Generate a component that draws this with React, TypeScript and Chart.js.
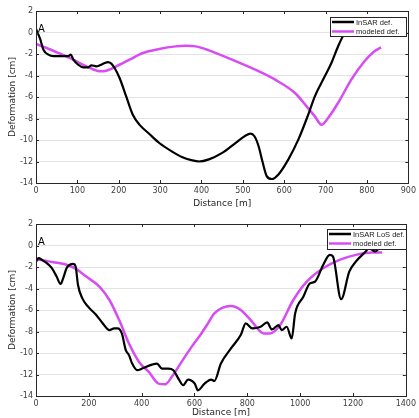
import React, { useEffect, useRef } from "react";
import { Chart, registerables } from "chart.js";

Chart.register(...registerables);

// ---- Panel 1 data ----
const topInsarX = [0, 10, 18, 30, 42, 60, 78, 84, 90, 102, 114, 126, 134, 146, 154, 166, 174, 182, 190, 202, 218, 234, 250, 274, 298, 330, 354, 378, 394, 418, 450, 482, 506, 518, 528, 538, 548, 558, 570, 586, 610, 634, 658, 674, 698, 714, 730, 746, 760, 772];
const topInsarY = [0.33, -0.6, -1.6, -2.06, -2.2, -2.2, -2.2, -2.05, -2.5, -3.0, -3.24, -3.24, -3.05, -3.15, -3.05, -2.84, -2.75, -2.9, -3.3, -4.23, -5.94, -7.65, -8.57, -9.44, -10.28, -11.1, -11.6, -11.9, -12.0, -11.8, -11.2, -10.28, -9.6, -9.4, -9.65, -10.58, -12.1, -13.38, -13.63, -13.2, -11.8, -9.97, -7.64, -5.94, -4.08, -2.84, -1.3, -0.05, 0.6, 1.0];
const topModelX = [0, 26, 58, 90, 122, 154, 170, 194, 226, 258, 298, 338, 362, 386, 418, 474, 530, 578, 626, 654, 674, 690, 706, 730, 762, 794, 818, 834];
const topModelY = [-1.07, -1.44, -1.97, -2.53, -3.15, -3.6, -3.55, -3.15, -2.53, -1.91, -1.53, -1.29, -1.23, -1.29, -1.66, -2.53, -3.46, -4.39, -5.63, -6.87, -7.8, -8.57, -7.95, -6.56, -4.39, -2.68, -1.75, -1.38];

// ---- Panel 2 data ----
const botInsarX = [0, 10, 22, 41, 60, 78, 93, 103, 116, 128, 141, 150, 159, 175, 197, 228, 253, 278, 296, 309, 325, 340, 352, 364, 383, 402, 439, 458, 477, 501, 520, 539, 557, 576, 601, 613, 638, 663, 675, 700, 738, 775, 794, 819, 850, 875, 893, 918, 930, 949, 968, 981, 1012, 1037, 1056, 1087, 1112, 1124, 1155, 1186, 1211, 1248, 1260, 1285, 1298];
const botInsarY = [-1.49, -1.17, -1.33, -1.64, -2.1, -2.89, -3.57, -3.04, -2.1, -1.79, -1.7, -1.95, -3.67, -4.9, -5.69, -6.47, -7.25, -7.87, -7.71, -7.71, -8.18, -9.74, -10.2, -10.98, -11.6, -11.45, -11.08, -10.98, -11.45, -11.45, -11.6, -12.38, -13.0, -12.47, -12.85, -13.47, -12.85, -12.47, -12.6, -10.98, -9.58, -8.33, -7.25, -7.71, -7.56, -7.16, -7.81, -7.4, -7.87, -7.56, -8.65, -6.32, -4.77, -3.52, -3.37, -1.81, -0.87, -1.02, -5.0, -2.43, -1.49, -0.56, -0.25, -0.56, -0.25];
const botModelX = [0, 66, 116, 153, 190, 240, 278, 315, 352, 390, 427, 464, 489, 514, 551, 589, 626, 651, 675, 738, 775, 813, 862, 887, 924, 974, 1025, 1087, 1149, 1211, 1273, 1310];
const botModelY = [-1.27, -1.55, -1.79, -2.2, -2.89, -3.82, -5.07, -6.94, -9.12, -10.83, -11.76, -12.85, -12.91, -12.22, -10.83, -9.43, -8.18, -7.25, -6.32, -5.63, -6.0, -6.94, -8.18, -8.18, -7.4, -5.07, -3.36, -2.12, -1.34, -0.87, -0.65, -0.65];

const yTicks = [2, 0, -2, -4, -6, -8, -10, -12, -14];
const MAGENTA = "#d84cf4";
const FONT = "'DejaVu Sans', sans-serif";
const LEGEND_FONT = "'Liberation Sans', sans-serif";

type Panel = {
  insarX: number[]; insarY: number[]; modelX: number[]; modelY: number[];
  xMax: number; xStep: number; insarLabel: string;
  padTop: number; axisH: number; legendBox: [number, number, number, number];
  titlePad: number;
};

const panels: Panel[] = [
  { insarX: topInsarX, insarY: topInsarY, modelX: topModelX, modelY: topModelY, xMax: 900, xStep: 100, insarLabel: "InSAR def.", padTop: 11, axisH: 26, legendBox: [330, 17, 406, 36], titlePad: 2 },
  { insarX: botInsarX, insarY: botInsarY, modelX: botModelX, modelY: botModelY, xMax: 1400, xStep: 200, insarLabel: "InSAR LoS def.", padTop: 15, axisH: 22, legendBox: [327, 20, 406, 40], titlePad: 1 },
];

const framePlugin = (p: Panel) => ({
  id: "frame",
  afterDraw(chart: any) {
    const ctx = chart.ctx;
    const a = chart.chartArea;
    const xs = chart.scales.x;
    const ys = chart.scales.y;
    ctx.save();
    ctx.strokeStyle = "#262626";
    ctx.lineWidth = 1;
    ctx.strokeRect(Math.round(a.left) + 0.5, Math.round(a.top) + 0.5, Math.round(a.right - a.left), Math.round(a.bottom - a.top));
    ctx.beginPath();
    for (let v = 0; v <= p.xMax; v += p.xStep) {
      const x = Math.round(xs.getPixelForValue(v)) + 0.5;
      ctx.moveTo(x, a.bottom); ctx.lineTo(x, a.bottom - 3);
      ctx.moveTo(x, a.top); ctx.lineTo(x, a.top + 3);
    }
    for (const v of yTicks) {
      const y = Math.round(ys.getPixelForValue(v)) + 0.5;
      ctx.moveTo(a.left, y); ctx.lineTo(a.left + 3, y);
      ctx.moveTo(a.right, y); ctx.lineTo(a.right - 3, y);
    }
    ctx.stroke();
    // label A
    ctx.fillStyle = "#000";
    ctx.font = `10px ${FONT}`;
    ctx.textBaseline = "middle";
    ctx.textAlign = "left";
    ctx.fillText("A", a.left + 2, ys.getPixelForValue(0.3));
    // legend
    const [l, t, r, b] = p.legendBox;
    ctx.fillStyle = "#fff";
    ctx.fillRect(l, t, r - l, b - t);
    ctx.strokeStyle = "#262626";
    ctx.strokeRect(l + 0.5, t + 0.5, r - l, b - t);
    const rows = [
      { c: "#000", w: 2.5, label: p.insarLabel },
      { c: MAGENTA, w: 2.5, label: "modeled def." },
    ];
    ctx.font = `7.5px ${LEGEND_FONT}`;
    rows.forEach((row, i) => {
      const y = t + 5 + i * 9.5;
      ctx.strokeStyle = row.c;
      ctx.lineWidth = row.w;
      ctx.beginPath();
      ctx.moveTo(l + 2, y); ctx.lineTo(l + 24, y);
      ctx.stroke();
      ctx.fillStyle = "#1a1a1a";
      ctx.fillText(row.label, l + 26, y + 0.5);
    });
    ctx.restore();
  },
});

function PanelChart({ p, top }: { p: Panel; top: number }) {
  const ref = useRef<HTMLCanvasElement>(null);
  useEffect(() => {
    const ticksX: number[] = [];
    for (let v = 0; v <= p.xMax; v += p.xStep) ticksX.push(v);
    const chart = new Chart(ref.current!, {
      type: "line",
      data: {
        datasets: [
          { data: p.insarX.map((x, i) => ({ x, y: p.insarY[i] })), borderColor: "#000", borderWidth: 2.2, pointRadius: 0, tension: 0.35, cubicInterpolationMode: "monotone" as any, order: 1 },
          { data: p.modelX.map((x, i) => ({ x, y: p.modelY[i] })), borderColor: MAGENTA, borderWidth: 2.5, pointRadius: 0, tension: 0.4, cubicInterpolationMode: "monotone" as any, order: 2 },
        ],
      },
      options: {
        animation: false,
        responsive: false,
        layout: { padding: { top: p.padTop, right: 8, left: 0, bottom: 0 } },
        plugins: { legend: { display: false }, tooltip: { enabled: false } },
        scales: {
          x: {
            type: "linear", min: 0, max: p.xMax,
            afterBuildTicks: (s: any) => { s.ticks = ticksX.map((v) => ({ value: v })); },
            afterFit: (s: any) => { s.height = p.axisH; },
            grid: { display: false, drawTicks: false },
            border: { display: false },
            ticks: { color: "#404040", font: { family: FONT, size: 8 }, padding: 3, maxRotation: 0, autoSkip: false, callback: (v: any) => String(v) },
            title: { display: true, text: "Distance [m]", color: "#262626", font: { family: FONT, size: 9 }, padding: { top: p.titlePad, bottom: 0 } },
          },
          y: {
            type: "linear", min: -14, max: 2,
            afterBuildTicks: (s: any) => { s.ticks = yTicks.map((v) => ({ value: v })); },
            afterFit: (s: any) => { s.width = 36; },
            grid: { color: "#e3e3e3", drawTicks: false },
            border: { display: false },
            ticks: { color: "#404040", font: { family: FONT, size: 8 }, padding: 3, callback: (v: any) => String(v) },
            title: { display: true, text: "Deformation [cm]", color: "#262626", font: { family: FONT, size: 9 }, padding: { top: 7, bottom: 0 } },
          },
        },
      },
      plugins: [framePlugin(p)],
    } as any);
    return () => chart.destroy();
  }, [p]);
  return (
    <canvas ref={ref} width={419} height={209} style={{ position: "absolute", left: 0, top, width: 419, height: 209 }} />
  );
}

export default function App() {
  return (
    <div style={{ position: "absolute", left: 0, top: 0, width: 419, height: 418, background: "#fff" }}>
      <PanelChart p={panels[0]} top={0} />
      <PanelChart p={panels[1]} top={209} />
    </div>
  );
}
